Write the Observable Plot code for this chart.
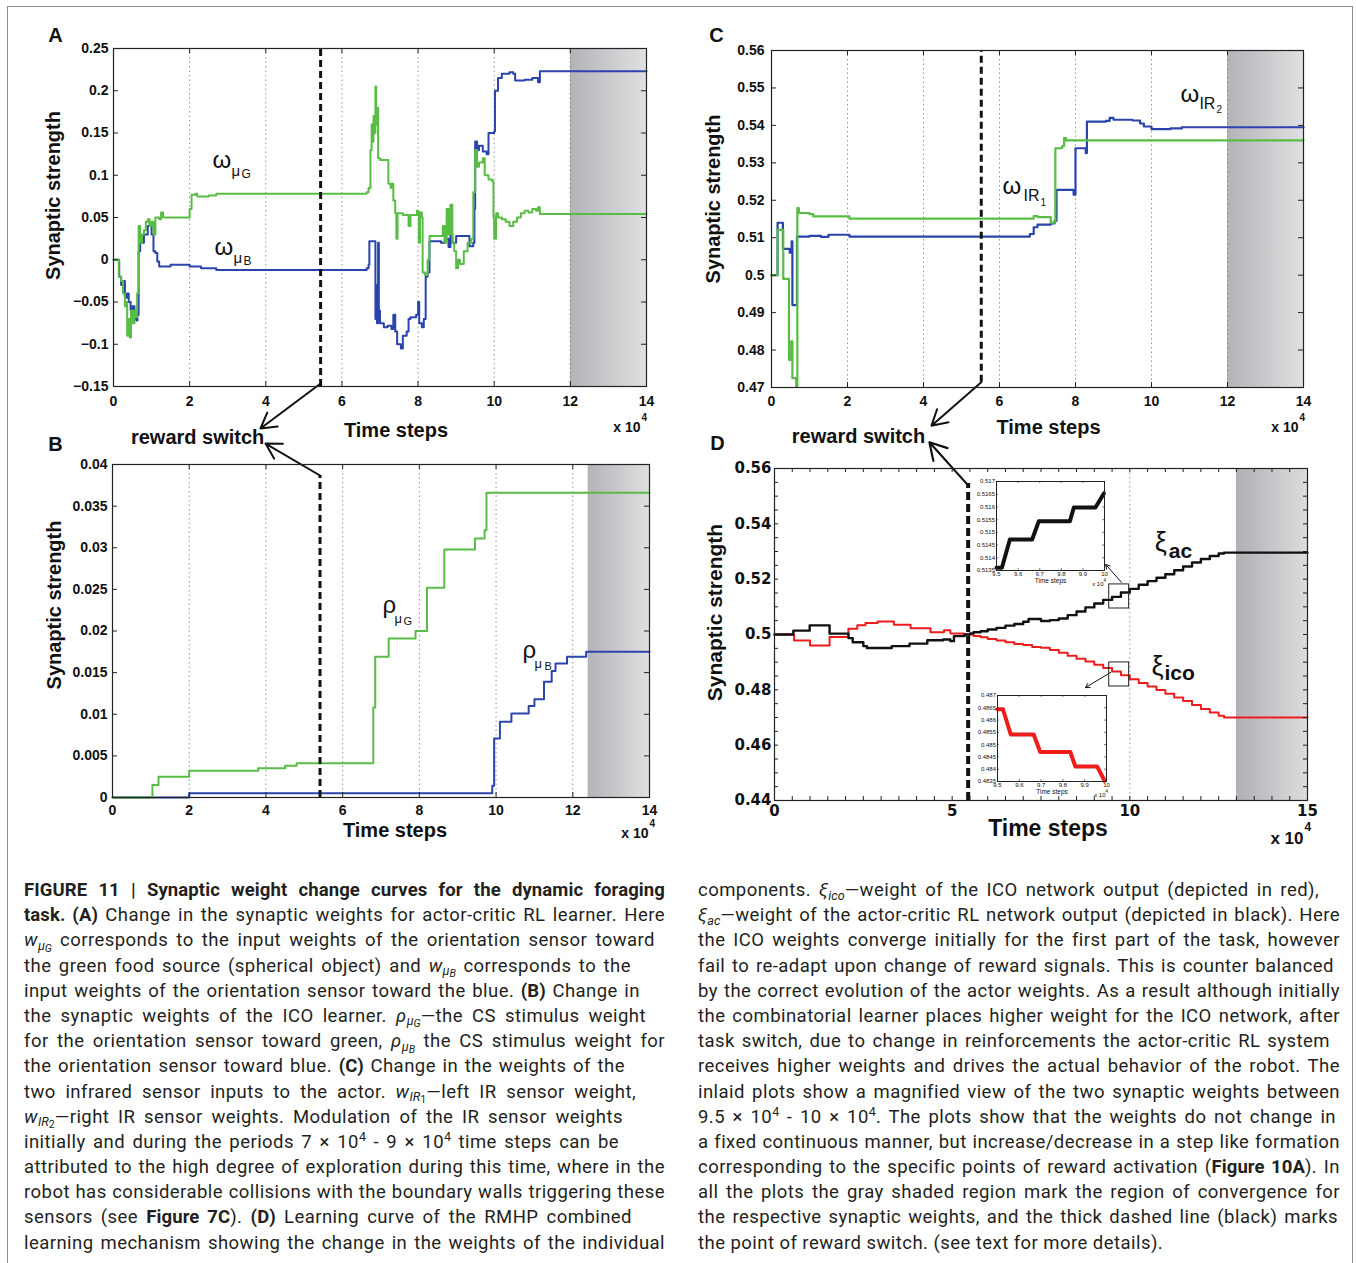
<!DOCTYPE html>
<html><head><meta charset="utf-8">
<script src="https://cdn.jsdelivr.net/npm/d3@7"></script>
<script src="https://cdn.jsdelivr.net/npm/@observablehq/plot@0.6"></script>
<style>
body{margin:0;background:#fff;}
#fig{position:relative;width:1356px;height:1263px;overflow:hidden;background:#fff;}
#border{position:absolute;left:7px;top:6px;width:1344px;height:1300px;border:1px solid #8f8f8f;}
.cap{position:absolute;font-family:Roboto,"Liberation Sans",Arial,sans-serif;font-size:18.5px;letter-spacing:0.45px;line-height:25.2px;color:#231f20;transform-origin:0 0;}
.cap div{height:25.2px;}
.cap div.j{text-align:justify;text-align-last:justify;}
.cap div.l{text-align:left;text-align-last:left;}
.cap div.m{white-space:nowrap;}
.cap b{font-weight:700;letter-spacing:0.1px;}
.cap sub{font-size:0.68em;vertical-align:-0.28em;line-height:0;letter-spacing:0;}
.cap sub sub{font-size:0.85em;vertical-align:-0.22em;}
.cap sup{font-size:0.68em;vertical-align:0.55em;line-height:0;letter-spacing:0;}
</style></head>
<body><div id="fig"><div id="border"></div></div>
<script>
// ================= DATA (time in units of 10^4 steps) =================
const xTicks = [0, 2, 4, 6, 8, 10, 12, 14];
const gridX = [2, 4, 6, 8, 10, 12];
const xTicksD = [0, 5, 10, 15];
const gridD = [10];
const yTicksA = [-0.15, -0.1, -0.05, 0, 0.05, 0.1, 0.15, 0.2, 0.25];
const yTicksB = [0, 0.005, 0.01, 0.015, 0.02, 0.025, 0.03, 0.035, 0.04];
const yTicksC = [0.47, 0.48, 0.49, 0.5, 0.51, 0.52, 0.53, 0.54, 0.55, 0.56];
const yTicksD = [0.44, 0.46, 0.48, 0.5, 0.52, 0.54, 0.56];
const insetXTicks = [9.5, 9.6, 9.7, 9.8, 9.9, 10];
const insetYTicksAc = [0.5135, 0.514, 0.5145, 0.515, 0.5155, 0.516, 0.5165, 0.517];
const insetYTicksIco = [0.4835, 0.484, 0.4845, 0.485, 0.4855, 0.486, 0.4865, 0.487];

// Panel A: actor-critic weights  [t, value]
const wMuG = [[0,0],[0.12,0],[0.14,-0.02],[0.2,-0.025],[0.25,-0.04],[0.3,-0.055],[0.33,-0.05],[0.36,-0.09],[0.4,-0.07],[0.43,-0.092],[0.46,-0.06],[0.5,-0.075],[0.55,-0.06],[0.6,-0.068],[0.62,-0.04],[0.66,0.04],[0.7,0.02],[0.75,0.03],[0.8,0.035],[0.85,0.045],[0.9,0.048],[0.95,0.04],[1.0,0.045],[1.05,0.03],[1.1,0.05],[1.2,0.048],[1.25,0.056],[1.3,0.05],[1.5,0.05],[1.98,0.05],[2.0,0.06],[2.05,0.077],[2.15,0.078],[2.2,0.075],[2.5,0.076],[2.7,0.078],[6.6,0.078],[6.65,0.08],[6.7,0.085],[6.75,0.13],[6.78,0.16],[6.8,0.14],[6.83,0.17],[6.85,0.15],[6.88,0.205],[6.9,0.16],[6.93,0.18],[6.95,0.12],[7.0,0.118],[7.2,0.118],[7.22,0.09],[7.28,0.085],[7.3,0.09],[7.35,0.07],[7.4,0.055],[7.43,0.025],[7.46,0.055],[7.6,0.053],[7.7,0.053],[7.75,0.04],[7.8,0.053],[7.95,0.053],[7.97,0.058],[8.0,0.057],[8.02,0.02],[8.05,0.056],[8.1,0.05],[8.12,-0.015],[8.18,-0.018],[8.25,0.0],[8.3,0.028],[8.6,0.028],[8.65,0.04],[8.7,0.02],[8.75,0.06],[8.8,0.03],[8.85,0.065],[8.9,0.02],[8.95,0.01],[9.0,-0.01],[9.05,0.0],[9.1,-0.005],[9.2,0.01],[9.3,0.02],[9.4,0.025],[9.45,0.08],[9.5,0.13],[9.55,0.11],[9.6,0.115],[9.7,0.12],[9.75,0.1],[9.85,0.095],[9.95,0.093],[9.98,0.05],[10.0,0.025],[10.05,0.055],[10.1,0.05],[10.2,0.048],[10.3,0.045],[10.4,0.04],[10.5,0.045],[10.6,0.05],[10.7,0.055],[10.8,0.058],[10.9,0.056],[11.0,0.06],[11.1,0.058],[11.15,0.062],[11.2,0.054],[14,0.054]];
const wMuB = [[0,0],[0.12,0],[0.15,-0.02],[0.2,-0.03],[0.25,-0.025],[0.3,-0.045],[0.35,-0.04],[0.4,-0.05],[0.45,-0.06],[0.5,-0.055],[0.55,-0.07],[0.6,-0.072],[0.63,-0.065],[0.66,0.01],[0.7,0.02],[0.8,0.03],[0.9,0.04],[0.95,0.044],[1.0,0.03],[1.05,0.01],[1.1,0.008],[1.15,-0.002],[1.2,-0.008],[1.5,-0.006],[2.0,-0.008],[2.3,-0.01],[2.7,-0.012],[6.6,-0.012],[6.65,-0.01],[6.7,-0.006],[6.72,0.022],[6.85,0.022],[6.88,-0.07],[6.9,-0.03],[6.92,-0.075],[6.95,0.02],[6.97,-0.06],[7.0,-0.075],[7.1,-0.08],[7.2,-0.078],[7.3,-0.082],[7.35,-0.065],[7.4,-0.085],[7.45,-0.1],[7.55,-0.105],[7.6,-0.09],[7.7,-0.085],[7.75,-0.07],[7.8,-0.068],[7.95,-0.065],[8.0,-0.05],[8.03,-0.075],[8.1,-0.08],[8.15,-0.07],[8.2,-0.02],[8.25,-0.015],[8.3,0.022],[8.6,0.02],[8.7,0.025],[8.8,0.015],[8.85,0.03],[8.9,0.02],[9.0,0.028],[9.3,0.028],[9.35,0.016],[9.45,0.02],[9.48,0.06],[9.5,0.14],[9.55,0.13],[9.6,0.135],[9.7,0.128],[9.8,0.125],[9.85,0.15],[10.0,0.152],[10.02,0.2],[10.1,0.215],[10.2,0.22],[10.4,0.222],[10.5,0.22],[10.55,0.212],[10.8,0.213],[11.0,0.215],[11.15,0.21],[11.2,0.223],[14,0.223]];

// Panel B: ICO weights
const rhoMuG = [[0,0],[1.04,0.0015],[1.2,0.0025],[2.0,0.0032],[3.8,0.0035],[4.5,0.0038],[4.8,0.0041],[6.8,0.0108],[6.85,0.0169],[7.2,0.0191],[7.9,0.0200],[8.2,0.0252],[8.65,0.0298],[9.45,0.0311],[9.7,0.0321],[9.75,0.0366],[14,0.0366]];
const rhoMuB = [[0,0],[2.0,0.0005],[9.9,0.0014],[9.95,0.0071],[10.1,0.0091],[10.4,0.0101],[10.85,0.011],[11.0,0.0118],[11.25,0.0139],[11.45,0.0152],[11.55,0.0161],[11.85,0.0169],[12.35,0.0175],[14,0.0175]];

// Panel C: IR sensor weights
const irBlue = [[0,0.5],[0.15,0.5],[0.16,0.514],[0.28,0.514],[0.3,0.507],[0.45,0.507],[0.48,0.506],[0.52,0.506],[0.53,0.509],[0.55,0.492],[0.65,0.492],[0.67,0.5103],[1.0,0.5105],[1.3,0.5102],[1.5,0.5108],[2.0,0.5108],[2.05,0.5103],[6.6,0.5103],[6.8,0.511],[6.9,0.5128],[7.0,0.5135],[7.35,0.5138],[7.45,0.5145],[7.5,0.5228],[7.9,0.5228],[7.95,0.5215],[8.0,0.5339],[8.25,0.5339],[8.27,0.5326],[8.3,0.541],[8.8,0.5412],[8.9,0.542],[9.0,0.5415],[9.5,0.5413],[9.7,0.5405],[9.8,0.5397],[10.0,0.539],[10.5,0.5392],[10.8,0.5395],[14,0.5395]];
const irGreen = [[0,0.5],[0.15,0.5],[0.16,0.5121],[0.3,0.5121],[0.31,0.499],[0.45,0.499],[0.46,0.4774],[0.5,0.478],[0.52,0.4823],[0.55,0.4725],[0.63,0.4725],[0.65,0.4703],[0.68,0.5179],[0.72,0.5166],[1.0,0.5163],[1.1,0.5157],[2.0,0.5157],[2.05,0.5151],[6.8,0.5151],[6.9,0.5158],[7.0,0.5155],[7.3,0.5155],[7.35,0.514],[7.45,0.5145],[7.47,0.5339],[7.65,0.5345],[7.7,0.5366],[7.75,0.536],[14,0.536]];

// Panel D: combined learner output weights
const xiAc = [[0,0.5],[0.53,0.5014],[0.99,0.5033],[1.55,0.5003],[2.08,0.4987],[2.2,0.4972],[2.5,0.4958],[2.6,0.4951],[3.3,0.4958],[3.8,0.4967],[4.3,0.4979],[4.75,0.4982],[4.95,0.4976],[5.05,0.4994],[5.35,0.5],[5.5,0.5004],[5.6,0.5008],[5.8,0.5012],[6.0,0.5018],[6.25,0.5024],[6.5,0.5032],[6.75,0.5038],[7.0,0.5046],[7.15,0.5056],[7.5,0.5049],[7.75,0.5052],[8.0,0.5058],[8.25,0.507],[8.5,0.5083],[8.75,0.5098],[9.0,0.5112],[9.25,0.5125],[9.5,0.5136],[9.75,0.5152],[10.0,0.5165],[10.25,0.518],[10.5,0.5193],[10.75,0.5205],[11.0,0.5218],[11.25,0.5232],[11.5,0.5246],[11.75,0.526],[12.0,0.5273],[12.25,0.5284],[12.5,0.5293],[12.65,0.5296],[15,0.5296]];
const xiIco = [[0,0.5],[0.55,0.4978],[1.0,0.496],[1.55,0.4991],[2.08,0.5021],[2.33,0.5033],[2.56,0.5042],[2.9,0.5047],[3.36,0.5035],[3.83,0.5023],[4.39,0.5008],[4.77,0.5015],[4.95,0.5004],[5.33,0.5],[5.6,0.4995],[5.8,0.499],[6.0,0.4984],[6.25,0.4978],[6.5,0.4972],[6.75,0.4966],[7.0,0.4962],[7.25,0.4955],[7.5,0.4952],[7.75,0.4944],[8.0,0.4934],[8.25,0.4923],[8.5,0.4912],[8.75,0.4902],[9.0,0.4891],[9.25,0.4879],[9.5,0.4866],[9.75,0.4853],[10.0,0.4838],[10.25,0.4825],[10.5,0.4812],[10.75,0.4799],[11.0,0.4786],[11.25,0.4772],[11.5,0.476],[11.75,0.4745],[12.0,0.4731],[12.25,0.4718],[12.5,0.4706],[12.65,0.47],[15,0.47]];
const insetAc = [[9.5,0.51361],[9.525,0.51361],[9.562,0.51472],[9.665,0.51472],[9.696,0.51544],[9.84,0.51544],[9.858,0.51598],[9.958,0.51598],[9.997,0.51653]];
const insetIco = [[9.5,0.48644],[9.525,0.48644],[9.561,0.48541],[9.666,0.48541],[9.696,0.4847],[9.834,0.4847],[9.857,0.48411],[9.957,0.48411],[9.991,0.48353]];

// convergence (shaded) regions and reward switch
const shadeA = [12, 14], shadeB = [12.4, 14], shadeC = [12, 14], shadeD = [13, 15];
const switchA = {x: 5.44, y1: -0.15, y2: 0.25};
const switchB = {x: 5.41, y1: 0, y2: 0.03868};
const switchC = {x: 5.52, y1: 0.4714, y2: 0.56};
const switchD = {x: 5.45, y1: 0.44, y2: 0.5546};
// annotations (data coordinates)
const arrowA = {x1: 5.44, y1: -0.1464, x2: 3.86, y2: -0.1997};
const arrowB = {x1: 5.41, y1: 0.03868, x2: 3.99, y2: 0.04252};
const arrowC = {x1: 5.52, y1: 0.4714, x2: 4.21, y2: 0.4598};
const arrowD = {x1: 5.45, y1: 0.5539, x2: 4.36, y2: 0.5695};
const rewardLabelA = [2.21, -0.2104], rewardLabelC = [2.29, 0.4569];
const labA_G = [2.60, 0.1175], labA_B = [2.65, 0.0151];
const labB_G = [7.04, 0.02306], labB_B = [10.69, 0.01766];
const labC_2 = [10.76, 0.5482], labC_1 = [6.08, 0.5237];
const labD_ac = [10.70, 0.5333], labD_ico = [10.61, 0.4884];
const zoomBoxes = [{x1: 9.42, x2: 9.98, y1: 0.5094, y2: 0.5181}, {x1: 9.42, x2: 9.98, y1: 0.4812, y2: 0.4899}];
const zoomArrows = [{x1: 9.77, y1: 0.5188, x2: 9.32, y2: 0.5253}, {x1: 9.46, y1: 0.4863, x2: 8.75, y2: 0.4808}];

// ================= DRAWING =================
const GREEN = "#58bd45", BLUE = "#2a44ac", RED = "#ee1c1c", BLACK = "#111";
const ff = "'Liberation Sans', Arial, Helvetica, sans-serif";
const fig = document.getElementById("fig");
const fmt = d => String(+(+d).toFixed(4)).replace("-", "\u2212");
const X = d => d[0], Y = d => d[1];

function T(text, o) { return Plot.text([text], {text: d => d, fontFamily: ff, fill: "#111", textAnchor: "middle", lineAnchor: "middle", ...o}); }
function sym(p, parts) {
  return parts.map(([s, dx, dy, size, weight]) => Plot.text([p], {x: X, y: Y, text: () => s, dx, dy, fontSize: size, fontWeight: weight || "normal", textAnchor: "start", lineAnchor: "middle", fontFamily: ff, fill: "#111"}));
}
function addGrad(svg, id, c0, c1) {
  const ns = "http://www.w3.org/2000/svg";
  const defs = document.createElementNS(ns, "defs");
  const g = document.createElementNS(ns, "linearGradient");
  g.setAttribute("id", id); g.setAttribute("x1", "0"); g.setAttribute("x2", "1"); g.setAttribute("y1", "0"); g.setAttribute("y2", "0");
  [[0, c0], [1, c1]].forEach(([o, c]) => { const s = document.createElementNS(ns, "stop"); s.setAttribute("offset", o); s.setAttribute("stop-color", c); g.appendChild(s); });
  defs.appendChild(g); svg.insertBefore(defs, svg.firstChild);
}
function place(svg, left, top) {
  svg.style.position = "absolute"; svg.style.left = left + "px"; svg.style.top = top + "px";
  svg.style.overflow = "visible"; svg.style.background = "none"; svg.style.maxWidth = "none";
  fig.appendChild(svg);
}

function panel(c) {
  const fw = c.width - c.ml - c.mr, fh = c.height - c.mt - c.mb;
  const [x0, x1] = c.xd, [y0, y1] = c.yd;
  const tl = c.tick || 5;
  const tx = tl * (x1 - x0) / fw, ty = tl * (y1 - y0) / fh;
  const xm = c.xMinor || c.xt, ym = c.yMinor || c.yt;
  const tff = c.tickFont || ff;
  const marks = [];
  marks.push(Plot.rect([c.shade], {x1: X, x2: Y, y1: y0, y2: y1, fill: `url(#${c.id}g)`}));
  marks.push(Plot.ruleX(c.grid, {stroke: "#7a7a7a", strokeWidth: 0.8, strokeDasharray: "1.5,3"}));
  marks.push(...c.marks);
  marks.push(
    Plot.ruleX(xm, {y1: y0, y2: y0 + ty, stroke: "#222"}),
    Plot.ruleX(xm, {y1: y1, y2: y1 - ty, stroke: "#222"}),
    Plot.ruleY(ym, {x1: x0, x2: x0 + tx, stroke: "#222"}),
    Plot.ruleY(ym, {x1: x1, x2: x1 - tx, stroke: "#222"}),
    Plot.frame({stroke: "#222", strokeWidth: 1.2}),
    Plot.axisX(c.xt, {anchor: "bottom", tickSize: 0, tickPadding: c.xpad, tickFormat: fmt, label: null, fontSize: c.tf, fontWeight: "bold", fontFamily: tff, fill: "#111"}),
    Plot.axisY(c.yt, {anchor: "left", tickSize: 0, tickPadding: c.ypad, tickFormat: fmt, label: null, fontSize: c.tf, fontWeight: "bold", fontFamily: tff, fill: "#111"}),
    ...c.labels
  );
  const svg = Plot.plot({
    width: c.width, height: c.height,
    marginTop: c.mt, marginRight: c.mr, marginBottom: c.mb, marginLeft: c.ml,
    x: {domain: c.xd}, y: {domain: c.yd},
    style: {fontFamily: ff, color: "#111", background: "none", overflow: "visible"},
    marks
  });
  addGrad(svg, c.id + "g", c.g0 || "#b3b3b8", c.g1 || "#e0e0e2");
  place(svg, c.left, c.top);
}

function switchRule(s, w, dash) {
  return Plot.ruleX([s], {x: "x", y1: "y1", y2: "y2", stroke: BLACK, strokeWidth: w, strokeDasharray: dash});
}
function arrow(a, w, head) {
  return Plot.arrow([a], {x1: "x1", y1: "y1", x2: "x2", y2: "y2", stroke: BLACK, strokeWidth: w, headLength: head});
}
const stepLine = (data, color, w = 2) => Plot.line(data, {x: X, y: Y, stroke: color, strokeWidth: w, curve: "step-after"});
const bold = {fontWeight: "bold"};

// ---------- Panel A ----------
panel({
  id: "A", left: 0, top: 20, width: 680, height: 418, ml: 113, mr: 34, mt: 28, mb: 52,
  xd: [0, 14], yd: [-0.15, 0.25], xt: xTicks, yt: yTicksA, grid: gridX, shade: shadeA,
  tf: 14, xpad: 10, ypad: 5,
  marks: [stepLine(wMuB, BLUE), stepLine(wMuG, GREEN), switchRule(switchA, 3, "7,4"), arrow(arrowA, 2, 13)],
  labels: [
    T("A", {frameAnchor: "top-left", dx: -58, dy: -13, fontSize: 20, ...bold}),
    T("Synaptic strength", {frameAnchor: "left", rotate: -90, dx: -60, dy: -22, fontSize: 20, ...bold}),
    T("Time steps", {frameAnchor: "bottom", dx: 16, dy: 44, fontSize: 20, ...bold}),
    T("x 10", {frameAnchor: "bottom-right", dx: -6, dy: 41, fontSize: 14, ...bold, textAnchor: "end"}),
    T("4", {frameAnchor: "bottom-right", dx: -5, dy: 31, fontSize: 10, ...bold, textAnchor: "start"}),
    Plot.text([rewardLabelA], {x: X, y: Y, text: () => "reward switch", fontSize: 20, ...bold, fontFamily: ff, fill: "#111"}),
    ...sym(labA_G, [["\u03c9", 0, 0, 24], ["\u03bc", 19, 11, 15], ["G", 29, 14, 12]]),
    ...sym(labA_B, [["\u03c9", 0, 0, 24], ["\u03bc", 19, 11, 15], ["B", 29, 14, 12]])
  ]
});

// ---------- Panel B ----------
panel({
  id: "B", left: 0, top: 438, width: 680, height: 412, ml: 112, mr: 31, mt: 26, mb: 53,
  xd: [0, 14], yd: [0, 0.04], xt: xTicks, yt: yTicksB, grid: gridX, shade: shadeB,
  tf: 14, xpad: 8, ypad: 5,
  marks: [stepLine(rhoMuB, BLUE), stepLine(rhoMuG, GREEN), switchRule(switchB, 3, "7,4"), arrow(arrowB, 2, 13)],
  labels: [
    T("B", {frameAnchor: "top-left", dx: -57, dy: -20, fontSize: 20, ...bold}),
    T("Synaptic strength", {frameAnchor: "left", rotate: -90, dx: -58, dy: -26, fontSize: 20, ...bold}),
    T("Time steps", {frameAnchor: "bottom", dx: 14, dy: 33, fontSize: 20, ...bold}),
    T("x 10", {frameAnchor: "bottom-right", dx: -1, dy: 36, fontSize: 14, ...bold, textAnchor: "end"}),
    T("4", {frameAnchor: "bottom-right", dx: 0, dy: 26, fontSize: 10, ...bold, textAnchor: "start"}),
    ...sym(labB_G, [["\u03c1", 0, 0, 24], ["\u03bc", 12, 13, 13], ["G", 21, 16, 11]]),
    ...sym(labB_B, [["\u03c1", 0, 0, 24], ["\u03bc", 12, 13, 13], ["B", 22, 16, 11]])
  ]
});

// ---------- Panel C ----------
panel({
  id: "C", left: 680, top: 20, width: 676, height: 418, ml: 91, mr: 53, mt: 30, mb: 51,
  xd: [0, 14], yd: [0.47, 0.56], xt: xTicks, yt: yTicksC, grid: gridX, shade: shadeC,
  tf: 14, xpad: 9, ypad: 7,
  marks: [stepLine(irBlue, BLUE, 2.2), stepLine(irGreen, GREEN, 2.2), switchRule(switchC, 3, "7,4"), arrow(arrowC, 2, 13)],
  labels: [
    T("C", {frameAnchor: "top-left", dx: -55, dy: -15, fontSize: 20, ...bold}),
    T("Synaptic strength", {frameAnchor: "left", rotate: -90, dx: -58, dy: -20, fontSize: 20, ...bold}),
    T("Time steps", {frameAnchor: "bottom", dx: 11, dy: 40, fontSize: 20, ...bold}),
    T("x 10", {frameAnchor: "bottom-right", dx: -5, dy: 40, fontSize: 14, ...bold, textAnchor: "end"}),
    T("4", {frameAnchor: "bottom-right", dx: -4, dy: 30, fontSize: 10, ...bold, textAnchor: "start"}),
    Plot.text([rewardLabelC], {x: X, y: Y, text: () => "reward switch", fontSize: 20, ...bold, fontFamily: ff, fill: "#111"}),
    ...sym(labC_2, [["\u03c9", 0, 0, 24], ["IR", 19, 9, 16], ["2", 36, 15, 10]]),
    ...sym(labC_1, [["\u03c9", 0, 0, 24], ["IR", 21, 9, 16], ["1", 38, 16, 10]])
  ]
});

// ---------- Panel D ----------
panel({
  id: "D", left: 680, top: 438, width: 676, height: 412, ml: 94, mr: 49, mt: 30, mb: 50,
  xd: [0, 15], yd: [0.44, 0.56], xt: xTicksD, yt: yTicksD, grid: gridD, shade: shadeD,
  xMinor: d3.range(0, 15.01, 0.5), yMinor: d3.range(0.44, 0.5601, 0.005), tick: 4,
  tf: 15, xpad: 5, ypad: 3, g0: "#b0b0b5", g1: "#dcdcde", tickFont: "'DejaVu Sans', 'Liberation Sans', sans-serif",
  marks: [
    stepLine(xiIco, RED, 2), stepLine(xiAc, BLACK, 2.4),
    switchRule(switchD, 4, "8,4"), arrow(arrowD, 2.2, 13),
    Plot.rect(zoomBoxes, {x1: "x1", x2: "x2", y1: "y1", y2: "y2", fill: "none", stroke: "#222", strokeWidth: 1}),
    ...zoomArrows.map(a => arrow(a, 1, 7))
  ],
  labels: [
    T("D", {frameAnchor: "top-left", dx: -57, dy: -25, fontSize: 20, ...bold}),
    T("Synaptic strength", {frameAnchor: "left", rotate: -90, dx: -59, dy: -22, fontSize: 21, ...bold}),
    T("Time steps", {frameAnchor: "bottom", dx: 7, dy: 28, fontSize: 23, ...bold}),
    T("x 10", {frameAnchor: "bottom-right", dx: -4, dy: 38, fontSize: 17, ...bold, textAnchor: "end"}),
    T("4", {frameAnchor: "bottom-right", dx: -3, dy: 27, fontSize: 12, ...bold, textAnchor: "start"}),
    ...sym(labD_ac, [["\u03be", 0, 0, 27], ["ac", 14, 9, 21, "bold"]]),
    ...sym(labD_ico, [["\u03be", 0, 0, 27], ["ico", 13, 7, 21, "bold"]])
  ]
});

// ---------- Insets ----------
function inset(c) {
  const fw = c.width - c.ml - c.mr, fh = c.height - c.mt - c.mb;
  const [x0, x1] = [insetXTicks[0], insetXTicks[insetXTicks.length - 1]];
  const [y0, y1] = [c.yt[0], c.yt[c.yt.length - 1]];
  const tx = 2 * (x1 - x0) / fw, ty = 2 * (y1 - y0) / fh;
  const svg = Plot.plot({
    width: c.width, height: c.height, marginTop: c.mt, marginRight: c.mr, marginBottom: c.mb, marginLeft: c.ml,
    x: {domain: [x0, x1]}, y: {domain: [y0, y1]},
    style: {fontFamily: ff, color: "#111", background: "none", overflow: "visible"},
    marks: [
      Plot.frame({fill: "white", stroke: null}),
      Plot.line(c.data, {x: X, y: Y, stroke: c.color, strokeWidth: 4}),
      Plot.ruleX(insetXTicks, {y1: y0, y2: y0 + ty, stroke: "#222", strokeWidth: 0.6}),
      Plot.ruleX(insetXTicks, {y1: y1, y2: y1 - ty, stroke: "#222", strokeWidth: 0.6}),
      Plot.ruleY(c.yt, {x1: x0, x2: x0 + tx, stroke: "#222", strokeWidth: 0.6}),
      Plot.ruleY(c.yt, {x1: x1, x2: x1 - tx, stroke: "#222", strokeWidth: 0.6}),
      Plot.frame({stroke: "#222", strokeWidth: 1}),
      Plot.axisX(insetXTicks, {anchor: "bottom", tickSize: 0, tickPadding: 1.5, tickFormat: fmt, label: null, fontSize: 6, fontFamily: ff}),
      Plot.axisY(c.yt, {anchor: "left", tickSize: 0, tickPadding: 1.5, tickFormat: fmt, label: null, fontSize: 6, fontFamily: ff}),
      T("Time steps", {frameAnchor: "bottom", dy: 10, fontSize: 6.5}),
      T("x 10", {frameAnchor: "bottom-right", dx: -1, dy: 14, fontSize: 6, textAnchor: "end"}),
      T("4", {frameAnchor: "bottom-right", dx: -1, dy: 10, fontSize: 4.5, textAnchor: "start"})
    ]
  });
  place(svg, c.left, c.top);
}
inset({left: 955, top: 474, width: 155, height: 120, ml: 41, mr: 6, mt: 7, mb: 24, yt: insetYTicksAc, data: insetAc, color: BLACK});
inset({left: 955, top: 688, width: 155, height: 117, ml: 42, mr: 4, mt: 7, mb: 24, yt: insetYTicksIco, data: insetIco, color: RED});

// ---------- Caption ----------
const muG = '<sub><i>μ</i><sub><i>G</i></sub></sub>', muB = '<sub><i>μ</i><sub><i>B</i></sub></sub>';
const capLeft = [
  ['<b>FIGURE 11 | Synaptic weight change curves for the dynamic foraging</b>', 641],
  ['<b>task. (A)</b> Change in the synaptic weights for actor-critic RL learner. Here', 641],
  ['<i>w</i>' + muG + ' corresponds to the input weights of the orientation sensor toward', 631],
  ['the green food source (spherical object) and <i>w</i>' + muB + ' corresponds to the', 607],
  ['input weights of the orientation sensor toward the blue. <b>(B)</b> Change in', 616],
  ['the synaptic weights of the ICO learner. <i>ρ</i>' + muG + '—the CS stimulus weight', 622],
  ['for the orientation sensor toward green, <i>ρ</i>' + muB + ' the CS stimulus weight for', 641],
  ['the orientation sensor toward blue. <b>(C)</b> Change in the weights of the', 601],
  ['two infrared sensor inputs to the actor. <i>w</i><sub><i>IR</i><sub>1</sub></sub>—left IR sensor weight,', 612],
  ['<i>w</i><sub><i>IR</i><sub>2</sub></sub>—right IR sensor weights. Modulation of the IR sensor weights', 599],
  ['initially and during the periods 7 × 10<sup>4</sup> - 9 × 10<sup>4</sup> time steps can be', 595],
  ['attributed to the high degree of exploration during this time, where in the', 641],
  ['robot has considerable collisions with the boundary walls triggering these', 641],
  ['sensors (see <b>Figure 7C</b>). <b>(D)</b> Learning curve of the RMHP combined', 608],
  ['learning mechanism showing the change in the weights of the individual', 641]
];
const capRight = [
  ['components. <i>ξ</i><sub><i>ico</i></sub>—weight of the ICO network output (depicted in red),', 621],
  ['<i>ξ</i><sub><i>ac</i></sub>—weight of the actor-critic RL network output (depicted in black). Here', 642],
  ['the ICO weights converge initially for the first part of the task, however', 642],
  ['fail to re-adapt upon change of reward signals. This is counter balanced', 636],
  ['by the correct evolution of the actor weights. As a result although initially', 642],
  ['the combinatorial learner places higher weight for the ICO network, after', 642],
  ['task switch, due to change in reinforcements the actor-critic RL system', 632],
  ['receives higher weights and drives the actual behavior of the robot. The', 642],
  ['inlaid plots show a magnified view of the two synaptic weights between', 642],
  ['9.5 × 10<sup>4</sup> - 10 × 10<sup>4</sup>. The plots show that the weights do not change in', 638],
  ['a fixed continuous manner, but increase/decrease in a step like formation', 642],
  ['corresponding to the specific points of reward activation (<b>Figure 10A</b>). In', 642],
  ['all the plots the gray shaded region mark the region of convergence for', 642],
  ['the respective synaptic weights, and the thick dashed line (black) marks', 640],
  ['the point of reward switch. (see text for more details).', 0]
];
function buildCols(cols) {
  const built = cols.map(([lines, left, top]) => {
    const col = document.createElement("div");
    col.className = "cap"; col.style.left = left + "px"; col.style.top = top + "px"; col.style.width = "2000px";
    fig.appendChild(col);
    const els = lines.map(([html, w]) => {
      const d = document.createElement("div"); d.className = "m";
      d.innerHTML = "<span>" + html + "</span>"; col.appendChild(d); return [d, w];
    });
    return [col, els];
  });
  let s = 1;
  for (const [, els] of built) for (const [d, w] of els) {
    const nw = d.firstChild.getBoundingClientRect().width;
    if (w) s = Math.min(s, (w - 1) / nw);
  }
  for (const [col, els] of built) {
    col.style.width = "auto";
    col.style.transform = `scaleX(${s})`;
    for (const [d, w] of els) {
      d.className = w ? "j" : "l";
      d.style.width = (w ? w / s : 900) + "px";
    }
  }
}
buildCols([[capLeft, 24, 878], [capRight, 698, 878]]);
</script></body></html>
